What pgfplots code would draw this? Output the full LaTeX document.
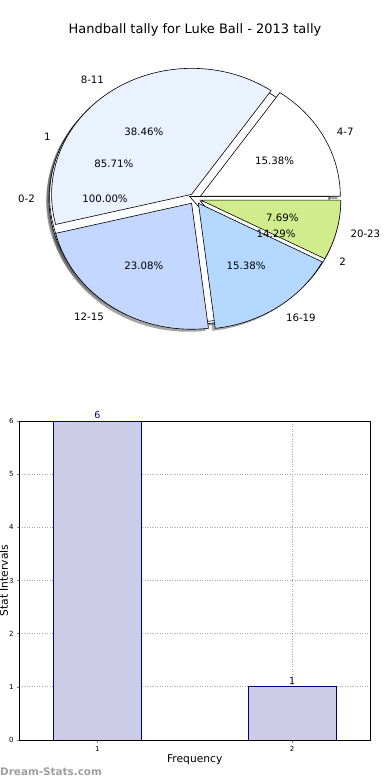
\documentclass[border=0pt]{standalone}
\usepackage{pgfplots}
\pgfplotsset{compat=1.18}
\usepackage{fontspec}
\setmainfont{DejaVu Sans}
\definecolor{cA}{HTML}{EAF2FF}
\definecolor{cB}{HTML}{C4D8FF}
\definecolor{cC}{HTML}{B4D8FF}
\definecolor{cD}{HTML}{D0EC8C}
\definecolor{barfill}{HTML}{CCCCE6}
\definecolor{navy}{HTML}{000080}
\newcommand\pief{\fontsize{10.2}{12}\selectfont}
% wedge: cx, cy, start pct, pct, style
\newcommand\wedgepath[5]{%
  \path[#5, shift={({3.6*(#3+#4/2)}:6pt and 5.4pt)}] (axis cs:#1,#2) -- ++({3.6*#3}:140pt and 126pt)
    arc[start angle={3.6*#3}, end angle={3.6*(#3+#4)}, x radius=140pt, y radius=126pt] -- cycle;}
% label: cx, cy, start pct, pct, anchor, text
\newcommand\pielabel[6]{%
  \node[anchor=#5, inner sep=0pt, font=\pief] at ([shift={({3.6*(#3+#4/2)}:160pt and 144pt)}]axis cs:#1,#2) {#6};}
\newcommand\piepct[5]{%
  \node[inner sep=0pt, font=\pief] at ([shift={({3.6*(#3+#4/2)}:90pt and 81pt)}]axis cs:#1,#2) {#5};}
\tikzset{shadowst/.style={fill=black!70, opacity=0.5, xshift=-2.8pt, yshift=-2.5pt},
  wedgest/.style={draw=black, line width=0.6pt}}
\begin{document}
\begin{tikzpicture}
\path[use as bounding box] (0,0) rectangle (390pt,780pt);
% ---------------- pie ----------------
\begin{axis}[at={(0,0)}, anchor=south west, scale only axis, width=390pt, height=780pt,
  xmin=0, xmax=390, ymin=0, ymax=780, y dir=reverse, hide axis, clip=false]
% shadows
\path[shadowst, shift={(180:6pt and 5.4pt)}] (axis cs:195,198.8) ellipse[x radius=140pt, y radius=126pt];
\wedgepath{195}{198.8}{0}{85.71}{shadowst}
\wedgepath{195}{198.8}{85.71}{14.29}{shadowst}
\wedgepath{195}{198.8}{0}{15.38}{shadowst}
\wedgepath{195}{198.8}{15.38}{38.46}{shadowst}
\wedgepath{195}{198.8}{53.84}{23.08}{shadowst}
\wedgepath{195}{198.8}{76.92}{15.38}{shadowst}
\wedgepath{195}{198.8}{92.30}{7.69}{shadowst}
% pie 0-2
\path[wedgest, fill=white, shift={(180:6pt and 5.4pt)}] (axis cs:195,198.8) ellipse[x radius=140pt, y radius=126pt];
% pie 1 / 2
\wedgepath{195}{198.8}{0}{85.71}{wedgest, fill=white}
\wedgepath{195}{198.8}{85.71}{14.29}{wedgest, fill=white}
% hour pie
\wedgepath{195}{198.8}{0}{15.38}{wedgest, fill=white}
\wedgepath{195}{198.8}{15.38}{38.46}{wedgest, fill=cA}
\wedgepath{195}{198.8}{53.84}{23.08}{wedgest, fill=cB}
\wedgepath{195}{198.8}{76.92}{15.38}{wedgest, fill=cC}
\wedgepath{195}{198.8}{92.30}{7.69}{wedgest, fill=cD}
% labels
\pielabel{195}{198.8}{0}{100}{east}{0-2}
\piepct{195}{198.8}{0}{100}{100.00\%}
\pielabel{195}{198.8}{0}{85.71}{east}{1}
\piepct{195}{198.8}{0}{85.71}{85.71\%}
\pielabel{195}{198.8}{85.71}{14.29}{west}{2}
\piepct{195}{198.8}{85.71}{14.29}{14.29\%}
\pielabel{195}{198.8}{0}{15.38}{west}{4-7}
\piepct{195}{198.8}{0}{15.38}{15.38\%}
\pielabel{195}{198.8}{15.38}{38.46}{east}{8-11}
\piepct{195}{198.8}{15.38}{38.46}{38.46\%}
\pielabel{195}{198.8}{53.84}{23.08}{east}{12-15}
\piepct{195}{198.8}{53.84}{23.08}{23.08\%}
\pielabel{195}{198.8}{76.92}{15.38}{west}{16-19}
\piepct{195}{198.8}{76.92}{15.38}{15.38\%}
\pielabel{195}{198.8}{92.30}{7.69}{west}{20-23}
\piepct{195}{198.8}{92.30}{7.69}{7.69\%}
\node[font=\fontsize{13}{15}\selectfont] at (axis cs:195,30) {Handball tally for Luke Ball - 2013 tally};
\node[anchor=base west, inner sep=0pt, text=black!38, font=\bfseries\fontsize{10.4}{12}\selectfont] at (axis cs:0,775.5) {Dream-Stats.com};
\end{axis}
% ---------------- bars ----------------
\begin{axis}[at={(19.5pt,40pt)}, anchor=south west, scale only axis, width=350.5pt, height=319pt,
  xmin=0.6, xmax=2.4, ymin=0, ymax=6, xtick={1,2}, ytick={0,1,2,3,4,5,6},
  ybar, bar width=0.45,
  grid=major, grid style={black!35, dash pattern=on 1pt off 1.5pt, line width=0.8pt},
  axis line style={black, line width=0.8pt},
  tick style={gray, line width=0.6pt}, tick align=outside, major tick length=2.5pt,
  xtick pos=bottom, ytick pos=left,
  tick label style={font=\fontsize{7}{8}\selectfont},
  /pgf/number format/assume math mode=true,
  xlabel={Frequency}, ylabel={Stat Intervals},
  label style={font=\fontsize{10.7}{12}\selectfont},
  xlabel style={at={(axis description cs:0.5,-0.0627)}, anchor=center},
  ylabel style={at={(axis description cs:-0.0442,0.5)}, anchor=center},
  nodes near coords,
  every node near coord/.append style={font=\fontsize{9.5}{11}\selectfont, text=navy, inner sep=2.2pt},
  ]
\addplot[fill=barfill, draw=navy, line width=0.7pt] coordinates {(1,6) (2,1)};
\end{axis}
\end{tikzpicture}
\end{document}
